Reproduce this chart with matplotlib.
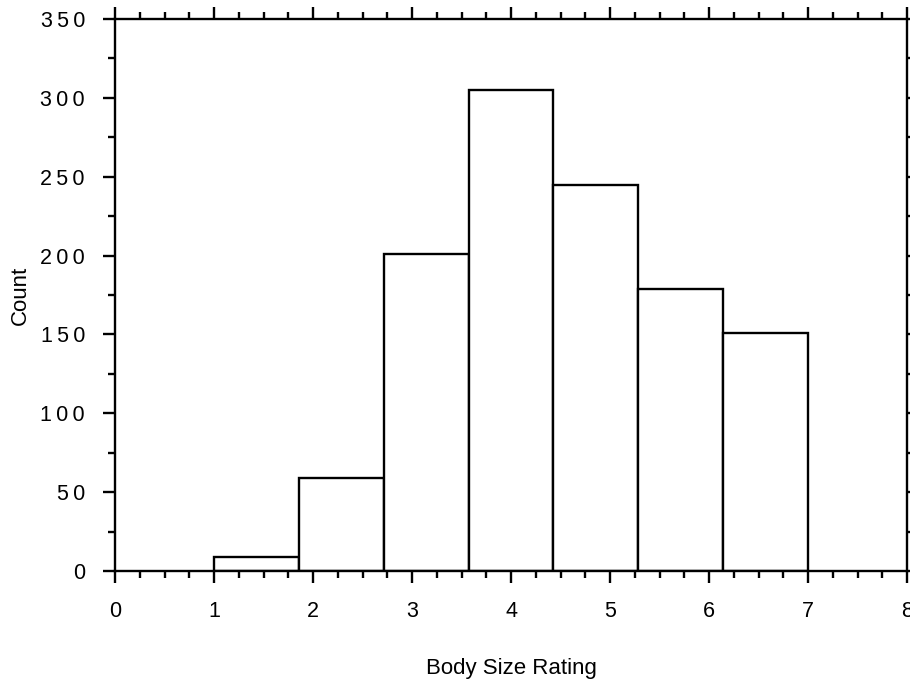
import numpy as np
import matplotlib
matplotlib.use("Agg")
import matplotlib.pyplot as plt
from matplotlib.ticker import MultipleLocator, FuncFormatter

# Data
bin_start = 1.0
bin_end = 7.0
counts = [9, 59, 201, 305, 245, 179, 151]
x_ticks = [0, 1, 2, 3, 4, 5, 6, 7, 8]
y_ticks = [0, 50, 100, 150, 200, 250, 300, 350]
x_label = "Body Size Rating"
y_label = "Count"

plt.rcParams['font.family'] = ['Liberation Sans', 'DejaVu Sans']

fig = plt.figure(figsize=(9.1, 6.8), dpi=100)
ax = fig.add_axes([115/910, 1 - 571/680, (907-115)/910, (571-19)/680])

edges = np.linspace(bin_start, bin_end, len(counts) + 1)
ax.bar(edges[:-1], counts, width=np.diff(edges), align='edge',
       facecolor='white', edgecolor='black', linewidth=1.7, zorder=2)

ax.set_xlim(0, 8)
ax.set_ylim(0, 350)
ax.set_xticks(x_ticks)
ax.set_yticks(y_ticks)
ax.xaxis.set_minor_locator(MultipleLocator(0.25))
ax.yaxis.set_minor_locator(MultipleLocator(25))

spaced = FuncFormatter(lambda v, p: "\u2009".join(str(int(round(v)))))
ax.xaxis.set_major_formatter(spaced)
ax.yaxis.set_major_formatter(spaced)

for s in ax.spines.values():
    s.set_linewidth(1.7)
    s.set_zorder(3)

ax.tick_params(which='both', direction='out', top=True, right=True,
               width=1.7, labelsize=15.5, colors='black')
ax.tick_params(which='major', length=8.6, pad=13)
ax.tick_params(which='minor', length=5)

ax.set_xlabel(x_label, fontsize=16, labelpad=26)
ax.set_ylabel(y_label, fontsize=16, labelpad=7)

fig.savefig("out.png", dpi=100)
